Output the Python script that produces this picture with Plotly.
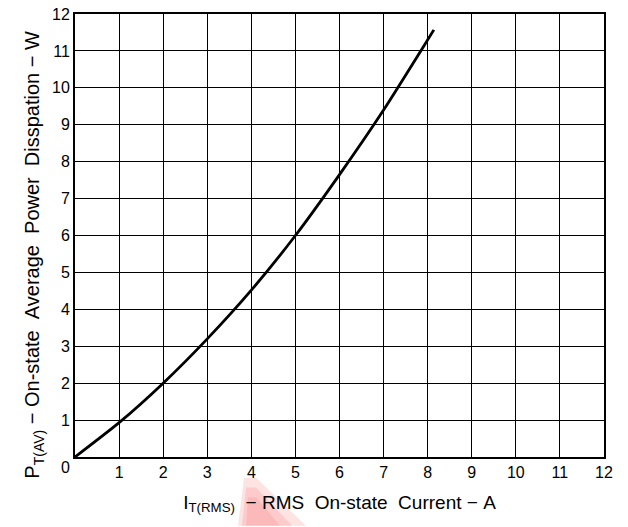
import plotly.graph_objects as go

# On-state current (A) vs. average power dissipation (W)
current_a = [0, 1, 2, 3, 4, 5, 6, 7, 8, 8.14]
power_w = [0, 0.93, 2.0, 3.2, 4.52, 6.0, 7.65, 9.4, 11.3, 11.57]

x_ticks = list(range(1, 13))
y_ticks = list(range(1, 13))

FONT = "Liberation Sans, Arial, sans-serif"
W, H = 628, 527
M = dict(l=75, r=24, t=6, b=70)
PW = W - M["l"] - M["r"]
PH = H - M["t"] - M["b"]


def px_to_paper(px, py):
    return (px - M["l"]) / PW, (H - M["b"] - py) / PH


SP = "\u00a0"

fig = go.Figure()
fig.add_trace(go.Scatter(
    x=current_a, y=power_w, mode="lines",
    line=dict(color="black", width=2.8, shape="spline", smoothing=0.6),
    showlegend=False, hoverinfo="skip",
))

axis_common = dict(
    range=[0, 12],
    showgrid=True, gridcolor="black", gridwidth=1,
    showline=True, linecolor="black", linewidth=2, mirror=True,
    zeroline=False, ticks="",
    tickfont=dict(family=FONT, size=16, color="black"),
    ticklabeloverflow="allow",
    fixedrange=True,
)

fig.update_xaxes(
    **axis_common,
    tickvals=x_ticks, ticktext=[str(v) for v in x_ticks],
    title=dict(
        text=(f"I<sub>T(RMS)</sub>{SP}{SP}−{SP}RMS{SP}{SP}On-state{SP}{SP}"
              f"Current{SP}−{SP}A"),
        font=dict(family=FONT, size=19, color="black"), standoff=15),
)
fig.update_yaxes(
    **axis_common,
    tickvals=y_ticks, ticktext=[str(v) for v in y_ticks],
)

# y-axis title placed as a rotated annotation
tx, ty = px_to_paper(34, 251)
fig.add_annotation(
    x=tx, y=ty, xref="paper", yref="paper", xanchor="center", yanchor="middle",
    textangle=-90, showarrow=False,
    text=(f"P<sub>T(AV)</sub>{SP}−{SP}On-state{SP}{SP}Average{SP}{SP}"
          f"Power{SP}{SP}Disspation{SP}−{SP}W"),
    font=dict(family=FONT, size=20, color="black"),
)

# shared origin label at the corner
fig.add_annotation(
    x=0, y=0, xref="x", yref="y", text="0", showarrow=False,
    xshift=-10, yshift=-10, font=dict(family=FONT, size=16, color="black"),
)

# faint red smudge below the plot
smudges = [
    ([(244, 478), (256, 478), (306, 527), (238, 527)], "rgba(245,60,60,0.14)"),
    ([(246, 488), (256, 488), (292, 527), (242, 527)], "rgba(245,60,60,0.14)"),
    ([(248, 498), (256, 498), (280, 527), (246, 527)], "rgba(245,60,60,0.12)"),
]
for pts, color in smudges:
    path = ""
    for i, (px, py) in enumerate(pts):
        ux, uy = px_to_paper(px, py)
        path += ("M" if i == 0 else "L") + f"{ux:.4f},{uy:.4f} "
    fig.add_shape(type="path", path=path + "Z", xref="paper", yref="paper",
                  fillcolor=color, line=dict(width=0), layer="below")

fig.update_layout(
    width=W, height=H,
    margin=M,
    paper_bgcolor="white", plot_bgcolor="white",
)

fig.write_html("out.html")
